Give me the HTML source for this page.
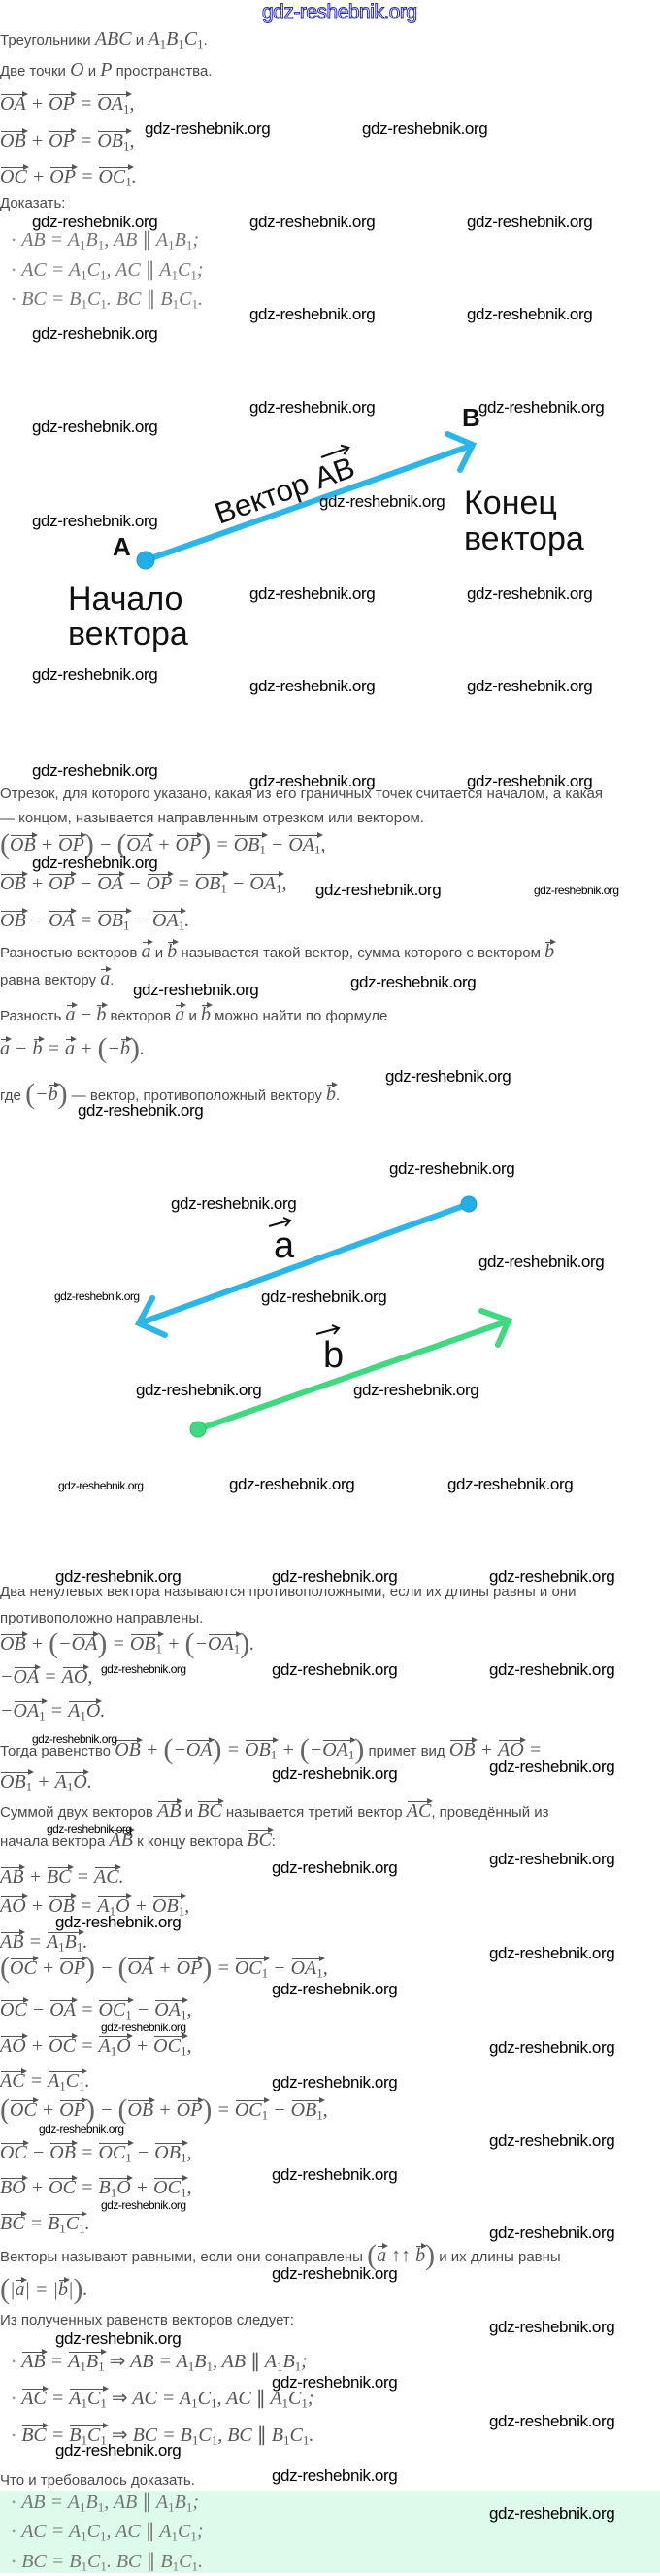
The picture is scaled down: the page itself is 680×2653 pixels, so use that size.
<!DOCTYPE html>
<html><head><meta charset="utf-8">
<style>
html,body{margin:0;padding:0;background:#fff}
body{width:680px;height:2650px;position:relative;overflow:hidden}
.L{position:absolute;left:0;white-space:nowrap;height:30px;line-height:30px;font-family:"Liberation Sans","DejaVu Sans",sans-serif;font-size:15px;color:#4a4a4a}
.m{font-family:"Liberation Serif",serif;font-style:italic;font-size:20px;color:#555}
.n{font-style:normal}
sub{font-size:0.65em;font-style:normal;vertical-align:-0.25em;line-height:0}
.v{display:inline-block;position:relative;line-height:20px}
.v::before{content:"";position:absolute;left:1px;right:0;top:0;border-top:1.2px solid #555}
.v::after{content:"";position:absolute;right:-2px;top:-3px;border-left:6px solid #555;border-top:3.5px solid transparent;border-bottom:3.5px solid transparent}
.p{font-family:"Liberation Serif",serif;font-style:normal;font-size:30px;color:#666;vertical-align:-3px;font-weight:100}
.w{position:absolute;font-family:"Liberation Sans",sans-serif;font-size:17px;line-height:17px;color:#000;white-space:nowrap;letter-spacing:-0.4px}
.ws{font-size:12px;line-height:12px;letter-spacing:-0.5px}
.b{color:#999;font-style:normal;font-size:12px;margin:0 6px 0 12px;vertical-align:2px}
.big{position:absolute;font-family:"Liberation Sans",sans-serif;font-size:34px;line-height:38px;color:#111;white-space:nowrap}
svg{position:absolute;left:0;top:0}
</style></head><body>
<div style="position:absolute;left:270px;top:2px;font:21px/21px 'Liberation Sans',sans-serif;color:#fff;-webkit-text-stroke:1px #2a2ad0;letter-spacing:-0.5px">gdz-reshebnik.org</div>

<div style="position:absolute;left:0;top:2565px;width:680px;height:85px;background:#dcfbea"></div>

<svg width="680" height="2650" viewBox="0 0 680 2650">
 <g stroke="#2bb6ea" stroke-width="6" stroke-linecap="round" fill="none">
  <line x1="150" y1="577" x2="485" y2="459"/>
  <polyline points="461,447 487,458 474,484"/>
  <line x1="483" y1="1240" x2="146" y2="1362"/>
  <polyline points="157,1337 143,1363 170,1375"/>
 </g>
 <circle cx="150" cy="577" r="9" fill="#22aee6" stroke="#1a9fd6" stroke-width="1"/>
 <circle cx="483" cy="1240" r="8" fill="#22aee6" stroke="#1a9fd6" stroke-width="1"/>
 <g stroke="#3fd980" stroke-width="6" stroke-linecap="round" fill="none">
  <line x1="204" y1="1472" x2="522" y2="1361"/>
  <polyline points="496,1350 524,1360 513,1385"/>
 </g>
 <circle cx="204" cy="1472" r="8" fill="#3fd980" stroke="#2ebf68" stroke-width="1"/>
 <g transform="translate(226,540) rotate(-19.5)">
  <text x="0" y="0" font-family="Liberation Sans, sans-serif" font-size="31" fill="#111">Вектор AB</text>
  <line x1="122" y1="-30" x2="152" y2="-30" stroke="#111" stroke-width="2"/>
  <polyline points="145,-35 152,-30 145,-25" stroke="#111" stroke-width="2" fill="none"/>
 </g>
 <text x="116" y="572" font-family="Liberation Sans, sans-serif" font-size="26" font-weight="bold" fill="#111">A</text>
 <text x="476" y="439" font-family="Liberation Sans, sans-serif" font-size="26" font-weight="bold" fill="#111">B</text>
 <text x="282" y="1295" font-family="Liberation Sans, sans-serif" font-size="38" fill="#111">a</text>
 <line x1="277" y1="1263" x2="298" y2="1257" stroke="#111" stroke-width="2"/>
 <polyline points="292,1254 299,1257 294,1263" stroke="#111" stroke-width="2" fill="none"/>
 <text x="333" y="1408" font-family="Liberation Sans, sans-serif" font-size="38" fill="#111">b</text>
 <line x1="326" y1="1374" x2="348" y2="1368" stroke="#111" stroke-width="2"/>
 <polyline points="342,1365 349,1368 344,1374" stroke="#111" stroke-width="2" fill="none"/>
</svg>

<div class="big" style="left:478px;top:499px">Конец</div>
<div class="big" style="left:478px;top:536px">вектора</div>
<div class="big" style="left:70px;top:598px">Начало</div>
<div class="big" style="left:70px;top:634px">вектора</div>

<!-- text lines -->
<div class="L" style="top:25px">Треугольники <span class="m">ABC</span> и <span class="m">A<sub>1</sub>B<sub>1</sub>C<sub>1</sub></span>.</div>
<div class="L" style="top:57px">Две точки <span class="m">O</span> и <span class="m">P</span> пространства.</div>
<div class="L m" style="top:92px"><span class="v">OA</span> + <span class="v">OP</span> = <span class="v">OA<sub>1</sub></span>,</div>
<div class="L m" style="top:130px"><span class="v">OB</span> + <span class="v">OP</span> = <span class="v">OB<sub>1</sub></span>,</div>
<div class="L m" style="top:167px"><span class="v">OC</span> + <span class="v">OP</span> = <span class="v">OC<sub>1</sub></span>.</div>
<div class="L" style="top:195px">Доказать:</div>
<div class="L m" style="top:232px;color:#777"><span class="b">•</span>AB = A<sub>1</sub>B<sub>1</sub>, AB <span class="n">∥</span> A<sub>1</sub>B<sub>1</sub>;</div>
<div class="L m" style="top:263px;color:#777"><span class="b">•</span>AC = A<sub>1</sub>C<sub>1</sub>, AC <span class="n">∥</span> A<sub>1</sub>C<sub>1</sub>;</div>
<div class="L m" style="top:293px;color:#777"><span class="b">•</span>BC = B<sub>1</sub>C<sub>1</sub>. BC <span class="n">∥</span> B<sub>1</sub>C<sub>1</sub>.</div>

<div class="L" style="top:803px">Отрезок, для которого указано, какая из его граничных точек считается началом, а какая</div>
<div class="L" style="top:828px">— концом, называется направленным отрезком или вектором.</div>
<div class="L m" style="top:855px"><span class="p">(</span><span class="v">OB</span> + <span class="v">OP</span><span class="p">)</span> − <span class="p">(</span><span class="v">OA</span> + <span class="v">OP</span><span class="p">)</span> = <span class="v">OB<sub>1</sub></span> − <span class="v">OA<sub>1</sub></span>,</div>
<div class="L m" style="top:895px"><span class="v">OB</span> + <span class="v">OP</span> − <span class="v">OA</span> − <span class="v">OP</span> = <span class="v">OB<sub>1</sub></span> − <span class="v">OA<sub>1</sub></span>,</div>
<div class="L m" style="top:933px"><span class="v">OB</span> − <span class="v">OA</span> = <span class="v">OB<sub>1</sub></span> − <span class="v">OA<sub>1</sub></span>.</div>
<div class="L" style="top:967px">Разностью векторов <span class="m v">a</span> и <span class="m v">b</span> называется такой вектор, сумма которого с вектором <span class="m v">b</span></div>
<div class="L" style="top:995px">равна вектору <span class="m v">a</span>.</div>
<div class="L" style="top:1030px">Разность <span class="m v">a</span> <span class="m">−</span> <span class="m v">b</span> векторов <span class="m v">a</span> и <span class="m v">b</span> можно найти по формуле</div>
<div class="L m" style="top:1065px"><span class="v">a</span> − <span class="v">b</span> = <span class="v">a</span> + <span class="p">(</span>−<span class="v">b</span><span class="p">)</span>.</div>
<div class="L" style="top:1112px">где <span class="m"><span class="p">(</span>−<span class="v">b</span><span class="p">)</span></span> — вектор, противоположный вектору <span class="m v">b</span>.</div>

<div class="L" style="top:1625px">Два ненулевых вектора называются противоположными, если их длины равны и они</div>
<div class="L" style="top:1652px">противоположно направлены.</div>
<div class="L m" style="top:1678px"><span class="v">OB</span> + <span class="p">(</span>−<span class="v">OA</span><span class="p">)</span> = <span class="v">OB<sub>1</sub></span> + <span class="p">(</span>−<span class="v">OA<sub>1</sub></span><span class="p">)</span>.</div>
<div class="L m" style="top:1712px">−<span class="v">OA</span> = <span class="v">AO</span>,</div>
<div class="L m" style="top:1747px">−<span class="v">OA<sub>1</sub></span> = <span class="v">A<sub>1</sub>O</span>.</div>
<div class="L" style="top:1787px">Тогда равенство <span class="m"><span class="v">OB</span> + <span class="p">(</span>−<span class="v">OA</span><span class="p">)</span> = <span class="v">OB<sub>1</sub></span> + <span class="p">(</span>−<span class="v">OA<sub>1</sub></span><span class="p">)</span></span> примет вид <span class="m"><span class="v">OB</span> + <span class="v">AO</span> =</span></div>
<div class="L m" style="top:1820px"><span class="v">OB<sub>1</sub></span> + <span class="v">A<sub>1</sub>O</span>.</div>
<div class="L" style="top:1852px">Суммой двух векторов <span class="m v">AB</span> и <span class="m v">BC</span> называется третий вектор <span class="m v">AC</span>, проведённый из</div>
<div class="L" style="top:1882px">начала вектора <span class="m v">AB</span> к концу вектора <span class="m v">BC</span>:</div>
<div class="L m" style="top:1918px"><span class="v">AB</span> + <span class="v">BC</span> = <span class="v">AC</span>.</div>
<div class="L m" style="top:1948px"><span class="v">AO</span> + <span class="v">OB</span> = <span class="v">A<sub>1</sub>O</span> + <span class="v">OB<sub>1</sub></span>,</div>
<div class="L m" style="top:1985px"><span class="v">AB</span> = <span class="v">A<sub>1</sub>B<sub>1</sub></span>.</div>
<div class="L m" style="top:2012px"><span class="p">(</span><span class="v">OC</span> + <span class="v">OP</span><span class="p">)</span> − <span class="p">(</span><span class="v">OA</span> + <span class="v">OP</span><span class="p">)</span> = <span class="v">OC<sub>1</sub></span> − <span class="v">OA<sub>1</sub></span>,</div>
<div class="L m" style="top:2055px"><span class="v">OC</span> − <span class="v">OA</span> = <span class="v">OC<sub>1</sub></span> − <span class="v">OA<sub>1</sub></span>,</div>
<div class="L m" style="top:2092px"><span class="v">AO</span> + <span class="v">OC</span> = <span class="v">A<sub>1</sub>O</span> + <span class="v">OC<sub>1</sub></span>,</div>
<div class="L m" style="top:2128px"><span class="v">AC</span> = <span class="v">A<sub>1</sub>C<sub>1</sub></span>.</div>
<div class="L m" style="top:2158px"><span class="p">(</span><span class="v">OC</span> + <span class="v">OP</span><span class="p">)</span> − <span class="p">(</span><span class="v">OB</span> + <span class="v">OP</span><span class="p">)</span> = <span class="v">OC<sub>1</sub></span> − <span class="v">OB<sub>1</sub></span>,</div>
<div class="L m" style="top:2202px"><span class="v">OC</span> − <span class="v">OB</span> = <span class="v">OC<sub>1</sub></span> − <span class="v">OB<sub>1</sub></span>,</div>
<div class="L m" style="top:2238px"><span class="v">BO</span> + <span class="v">OC</span> = <span class="v">B<sub>1</sub>O</span> + <span class="v">OC<sub>1</sub></span>,</div>
<div class="L m" style="top:2275px"><span class="v">BC</span> = <span class="v">B<sub>1</sub>C<sub>1</sub></span>.</div>
<div class="L" style="top:2308px">Векторы называют равными, если они сонаправлены <span class="m"><span class="p">(</span><span class="v">a</span> <span class="n">↑↑</span> <span class="v">b</span><span class="p">)</span></span> и их длины равны</div>
<div class="L m" style="top:2343px"><span class="p">(</span>|<span class="v">a</span>| = |<span class="v">b</span>|<span class="p">)</span>.</div>
<div class="L" style="top:2375px">Из полученных равенств векторов следует:</div>
<div class="L m" style="top:2417px"><span class="b">•</span><span class="v">AB</span> = <span class="v">A<sub>1</sub>B<sub>1</sub></span> <span class="n">⇒</span> AB = A<sub>1</sub>B<sub>1</sub>, AB <span class="n">∥</span> A<sub>1</sub>B<sub>1</sub>;</div>
<div class="L m" style="top:2455px"><span class="b">•</span><span class="v">AC</span> = <span class="v">A<sub>1</sub>C<sub>1</sub></span> <span class="n">⇒</span> AC = A<sub>1</sub>C<sub>1</sub>, AC <span class="n">∥</span> A<sub>1</sub>C<sub>1</sub>;</div>
<div class="L m" style="top:2493px"><span class="b">•</span><span class="v">BC</span> = <span class="v">B<sub>1</sub>C<sub>1</sub></span> <span class="n">⇒</span> BC = B<sub>1</sub>C<sub>1</sub>, BC <span class="n">∥</span> B<sub>1</sub>C<sub>1</sub>.</div>
<div class="L" style="top:2540px">Что и требовалось доказать.</div>
<div class="L m" style="top:2562px;color:#777"><span class="b">•</span>AB = A<sub>1</sub>B<sub>1</sub>, AB <span class="n">∥</span> A<sub>1</sub>B<sub>1</sub>;</div>
<div class="L m" style="top:2592px;color:#777"><span class="b">•</span>AC = A<sub>1</sub>C<sub>1</sub>, AC <span class="n">∥</span> A<sub>1</sub>C<sub>1</sub>;</div>
<div class="L m" style="top:2623px;color:#777"><span class="b">•</span>BC = B<sub>1</sub>C<sub>1</sub>. BC <span class="n">∥</span> B<sub>1</sub>C<sub>1</sub>.</div>

<!-- watermarks -->
<div class="w" style="left:149px;top:124px">gdz-reshebnik.org</div>
<div class="w" style="left:373px;top:124px">gdz-reshebnik.org</div>
<div class="w" style="left:33px;top:220px">gdz-reshebnik.org</div>
<div class="w" style="left:257px;top:220px">gdz-reshebnik.org</div>
<div class="w" style="left:481px;top:220px">gdz-reshebnik.org</div>
<div class="w" style="left:257px;top:315px">gdz-reshebnik.org</div>
<div class="w" style="left:481px;top:315px">gdz-reshebnik.org</div>
<div class="w" style="left:33px;top:335px">gdz-reshebnik.org</div>
<div class="w" style="left:257px;top:411px">gdz-reshebnik.org</div>
<div class="w" style="left:493px;top:411px">gdz-reshebnik.org</div>
<div class="w" style="left:33px;top:431px">gdz-reshebnik.org</div>
<div class="w" style="left:329px;top:508px">gdz-reshebnik.org</div>
<div class="w" style="left:33px;top:528px">gdz-reshebnik.org</div>
<div class="w" style="left:257px;top:603px">gdz-reshebnik.org</div>
<div class="w" style="left:481px;top:603px">gdz-reshebnik.org</div>
<div class="w" style="left:33px;top:686px">gdz-reshebnik.org</div>
<div class="w" style="left:257px;top:698px">gdz-reshebnik.org</div>
<div class="w" style="left:481px;top:698px">gdz-reshebnik.org</div>
<div class="w" style="left:33px;top:785px">gdz-reshebnik.org</div>
<div class="w" style="left:257px;top:796px">gdz-reshebnik.org</div>
<div class="w" style="left:481px;top:796px">gdz-reshebnik.org</div>
<div class="w" style="left:33px;top:880px">gdz-reshebnik.org</div>
<div class="w" style="left:325px;top:908px">gdz-reshebnik.org</div>
<div class="w ws" style="left:550px;top:911px">gdz-reshebnik.org</div>
<div class="w" style="left:137px;top:1011px">gdz-reshebnik.org</div>
<div class="w" style="left:361px;top:1003px">gdz-reshebnik.org</div>
<div class="w" style="left:397px;top:1100px">gdz-reshebnik.org</div>
<div class="w" style="left:80px;top:1135px">gdz-reshebnik.org</div>
<div class="w" style="left:401px;top:1195px">gdz-reshebnik.org</div>
<div class="w" style="left:176px;top:1231px">gdz-reshebnik.org</div>
<div class="w" style="left:493px;top:1291px">gdz-reshebnik.org</div>
<div class="w ws" style="left:56px;top:1329px">gdz-reshebnik.org</div>
<div class="w" style="left:269px;top:1327px">gdz-reshebnik.org</div>
<div class="w" style="left:140px;top:1423px">gdz-reshebnik.org</div>
<div class="w" style="left:364px;top:1423px">gdz-reshebnik.org</div>
<div class="w ws" style="left:60px;top:1524px">gdz-reshebnik.org</div>
<div class="w" style="left:236px;top:1520px">gdz-reshebnik.org</div>
<div class="w" style="left:461px;top:1520px">gdz-reshebnik.org</div>
<div class="w" style="left:57px;top:1615px">gdz-reshebnik.org</div>
<div class="w" style="left:280px;top:1615px">gdz-reshebnik.org</div>
<div class="w" style="left:504px;top:1615px">gdz-reshebnik.org</div>
<div class="w ws" style="left:104px;top:1713px">gdz-reshebnik.org</div>
<div class="w" style="left:280px;top:1711px">gdz-reshebnik.org</div>
<div class="w" style="left:504px;top:1711px">gdz-reshebnik.org</div>
<div class="w ws" style="left:33px;top:1785px">gdz-reshebnik.org</div>
<div class="w" style="left:504px;top:1811px">gdz-reshebnik.org</div>
<div class="w" style="left:280px;top:1818px">gdz-reshebnik.org</div>
<div class="w ws" style="left:48px;top:1878px">gdz-reshebnik.org</div>
<div class="w" style="left:504px;top:1906px">gdz-reshebnik.org</div>
<div class="w" style="left:280px;top:1915px">gdz-reshebnik.org</div>
<div class="w" style="left:57px;top:1971px">gdz-reshebnik.org</div>
<div class="w" style="left:504px;top:2003px">gdz-reshebnik.org</div>
<div class="w" style="left:280px;top:2040px">gdz-reshebnik.org</div>
<div class="w ws" style="left:104px;top:2082px">gdz-reshebnik.org</div>
<div class="w" style="left:504px;top:2100px">gdz-reshebnik.org</div>
<div class="w" style="left:280px;top:2136px">gdz-reshebnik.org</div>
<div class="w ws" style="left:40px;top:2187px">gdz-reshebnik.org</div>
<div class="w" style="left:504px;top:2196px">gdz-reshebnik.org</div>
<div class="w" style="left:280px;top:2231px">gdz-reshebnik.org</div>
<div class="w ws" style="left:104px;top:2265px">gdz-reshebnik.org</div>
<div class="w" style="left:504px;top:2291px">gdz-reshebnik.org</div>
<div class="w" style="left:280px;top:2333px">gdz-reshebnik.org</div>
<div class="w" style="left:504px;top:2388px">gdz-reshebnik.org</div>
<div class="w" style="left:57px;top:2400px">gdz-reshebnik.org</div>
<div class="w" style="left:280px;top:2445px">gdz-reshebnik.org</div>
<div class="w" style="left:504px;top:2485px">gdz-reshebnik.org</div>
<div class="w" style="left:57px;top:2515px">gdz-reshebnik.org</div>
<div class="w" style="left:280px;top:2541px">gdz-reshebnik.org</div>
<div class="w" style="left:504px;top:2580px">gdz-reshebnik.org</div>
</body></html>
